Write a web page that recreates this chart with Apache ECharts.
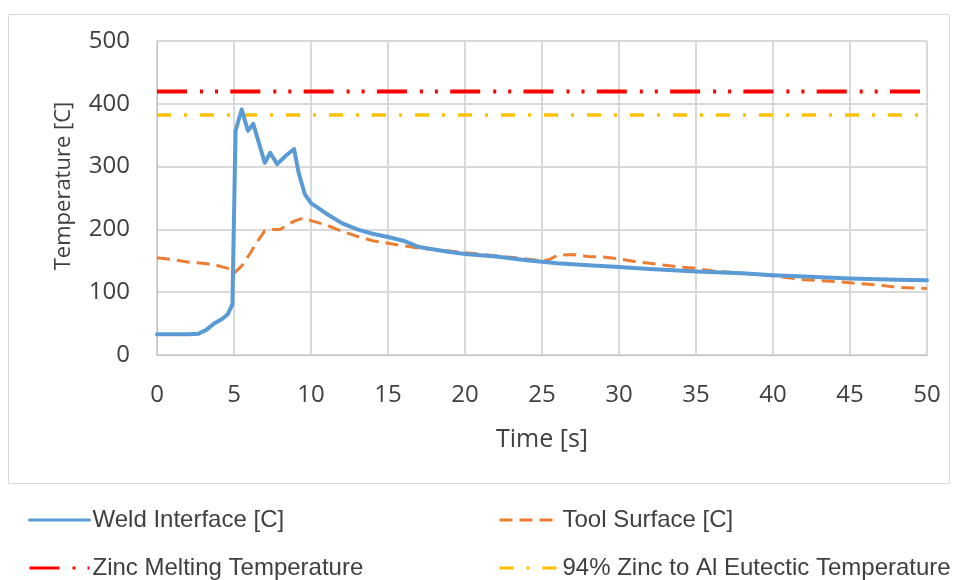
<!DOCTYPE html>
<html>
<head>
<meta charset="utf-8">
<script src="https://cdn.jsdelivr.net/npm/echarts@6/dist/echarts.min.js"></script>
<style>
html,body{margin:0;padding:0;background:#fff;}
#chart{width:959px;height:580px;}
</style>
</head>
<body>
<div id="chart"></div>
<script>
// ---- Data ----
const weldTime = [0, 1, 2, 2.7, 3.2, 3.7, 4.2, 4.6, 4.9, 5.1, 5.5, 5.9, 6.25, 7.0, 7.35, 7.8, 8.4, 8.9, 9.2, 9.6, 10, 11, 12, 13, 14, 15, 16, 17, 18, 19, 20, 22, 24, 26, 28, 30, 32, 35, 38, 40, 42, 45, 48, 50];
const weldTemp = [33, 33, 33, 34, 40, 50, 57, 65, 81, 357, 391, 357, 368, 306, 322, 304, 318, 328, 290, 256, 242, 225, 210, 200, 193, 188, 182, 172, 168, 164, 161, 157, 151, 146, 143, 140, 137, 133, 130, 127, 125, 122, 120, 119];

const toolTime = [0, 1, 2, 3, 4, 4.6, 5.0, 5.5, 6.0, 6.5, 7.0, 7.5, 8.0, 8.5, 9.0, 9.5, 10, 11, 12, 13, 14, 15, 16, 17, 18, 20, 22, 24, 25, 25.5, 26, 27, 28, 29, 30, 31, 32, 33, 34, 35, 36, 37, 38, 40, 42, 44, 45, 46, 47, 48, 50];
const toolTemp = [155, 152, 148, 146, 142, 138, 130, 142, 160, 180, 198, 200, 200, 208, 214, 218, 214, 207, 197, 189, 182, 178, 174, 170, 168, 163, 158, 153, 150, 152, 159, 160, 157, 156, 153, 149, 146, 143, 140, 138, 134, 132, 130, 126, 120, 117, 115, 113, 111, 108, 106];

const refTime = [0, 50];
const zincMelt = [419.5, 419.5];
const eutectic = [382, 382];

const xTicks = [0, 5, 10, 15, 20, 25, 30, 35, 40, 45, 50];
const yTicks = [0, 100, 200, 300, 400, 500];

const seriesNames = ['Weld Interface [C]', 'Tool Surface [C]', 'Zinc Melting Temperature', '94% Zinc to Al Eutectic Temperature'];

// ---- Build ----
const pair = (xs, ys) => xs.map((x, i) => [x, ys[i]]);
const tickFont = '"Open Sans", "Noto Sans", sans-serif';
const legendFont = '"Liberation Sans", Arial, sans-serif';

const chart = echarts.init(document.getElementById('chart'), null, {renderer: 'canvas'});

function legendAt(name, left, top) {
  return {
    data: [name], left: left, top: top, orient: 'horizontal',
    itemWidth: 60, itemHeight: 14, itemGap: 4, padding: 0,
    itemStyle: {opacity: 0, borderWidth: 0},
    lineStyle: {width: 3},
    textStyle: {fontFamily: legendFont, fontSize: 24, color: '#404040', padding: [0, 0, 0, -2]},
    selectedMode: false
  };
}

chart.setOption({
  animation: false,
  backgroundColor: '#fff',
  graphic: [{
    type: 'rect', shape: {x: 8.5, y: 14.5, width: 941, height: 469},
    style: {fill: 'none', stroke: '#d9d9d9', lineWidth: 1}, silent: true, z: -1
  }],
  grid: {left: 157, right: 32, top: 41, height: 314, containLabel: false},
  legend: [
    legendAt(seriesNames[0], 28, 508),
    legendAt(seriesNames[1], 498, 508),
    legendAt(seriesNames[2], 28, 556),
    legendAt(seriesNames[3], 498, 556)
  ],
  xAxis: {
    type: 'value', min: xTicks[0], max: xTicks[xTicks.length - 1], interval: 5,
    name: 'Time [s]', nameLocation: 'middle', nameGap: 72,
    nameTextStyle: {fontFamily: tickFont, fontSize: 25, color: '#404040'},
    axisLine: {show: true, lineStyle: {color: '#bfbfbf', width: 1}},
    axisTick: {show: false},
    axisLabel: {fontFamily: tickFont, fontSize: 24, color: '#404040', margin: 28},
    splitLine: {show: true, lineStyle: {color: '#d9d9d9', width: 2}}
  },
  yAxis: {
    type: 'value', min: yTicks[0], max: yTicks[yTicks.length - 1], interval: 100,
    name: 'Temperature [C]', nameLocation: 'middle', nameGap: 82, nameRotate: 90,
    nameTextStyle: {fontFamily: tickFont, fontSize: 22, color: '#404040', padding: [0, 0, 0, 24]},
    axisLine: {show: true, lineStyle: {color: '#bfbfbf', width: 1}},
    axisTick: {show: false},
    axisLabel: {fontFamily: tickFont, fontSize: 24, color: '#404040', margin: 27},
    splitLine: {show: true, lineStyle: {color: '#d9d9d9', width: 2}}
  },
  series: [
    {
      name: seriesNames[0], type: 'line', data: pair(weldTime, weldTemp),
      symbol: 'none', smooth: false, z: 4,
      lineStyle: {color: '#5B9BD5', width: 4, join: 'round', cap: 'round'},
      itemStyle: {color: '#5B9BD5'}
    },
    {
      name: seriesNames[1], type: 'line', data: pair(toolTime, toolTemp),
      symbol: 'none', smooth: false, z: 3,
      lineStyle: {color: '#ED7D31', width: 3, type: [13, 7]},
      itemStyle: {color: '#ED7D31'}
    },
    {
      name: seriesNames[2], type: 'line', data: pair(refTime, zincMelt),
      symbol: 'none', z: 2,
      lineStyle: {color: '#FF0000', width: 4, type: [30, 13, 3, 12, 3, 12.3]},
      itemStyle: {color: '#FF0000'}
    },
    {
      name: seriesNames[3], type: 'line', data: pair(refTime, eutectic),
      symbol: 'none', z: 2,
      lineStyle: {color: '#FFC000', width: 3.5, type: [14, 13, 3, 13]},
      itemStyle: {color: '#FFC000'}
    }
  ]
});
</script>
</body>
</html>
